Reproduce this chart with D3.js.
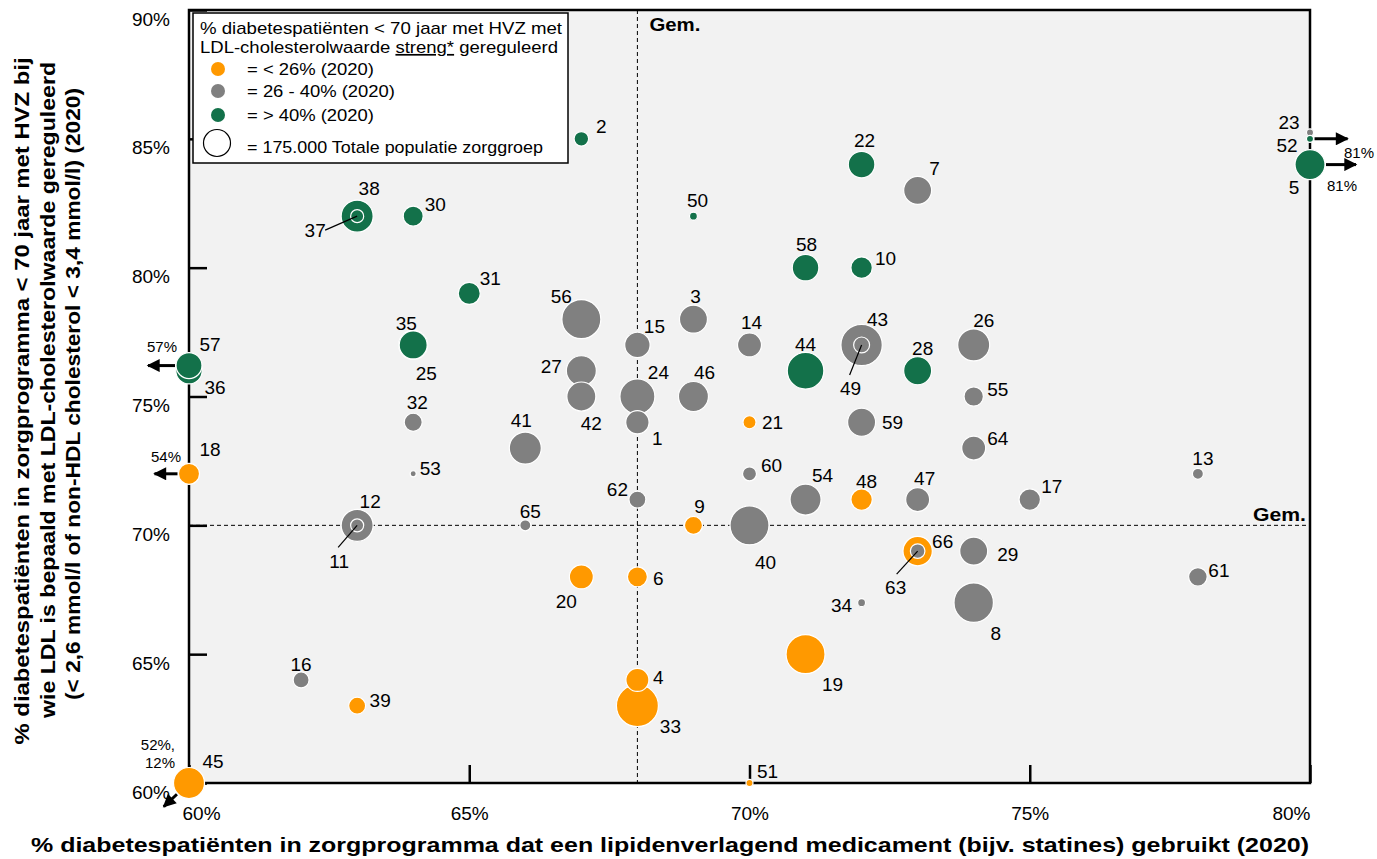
<!DOCTYPE html>
<html>
<head>
<meta charset="utf-8">
<script src="https://cdn.jsdelivr.net/npm/d3@7"></script>
<style>
body { margin: 0; background: #fff; }
text { font-family: Arial, "Liberation Sans", sans-serif; fill: #000; }
</style>
</head>
<body>
<svg id="chart" width="1377" height="859"></svg>
<script>
// zorggroep nummers 1..66
var ids = d3.range(1, 67);
// x: % met lipidenverlagend medicament
var medicatie = [68,67,69,68,81,68,73,74,69,72, 63,63,78,70,68,62,75,54,71,67,
  70,72,81,68,64,74,67,73,74,64, 65,64,68,72,64,60,63,63,63,70,
  66,67,72,71,52,69,73,72,72,69, 70,81,64,71,74,67,57,71,72,70,
  78,68,73,74,66,73];
// y: % LDL bepaald en gereguleerd
var ldlBepaald = [74,85,78,64,84,68,83,67,70,80, 70,70,72,77,77,64,71,72,65,68,
  74,84,85.25,75,77,77,76,76,69,82, 79,74,63,67,77,76,82,82,63,70,
  73,75,77,76,12,75,71,71,77,82, 60,85,72,71,75,78,76.2,80,74,72,
  68,71,69,73,70,69];
// totale populatie zorggroep (x1000)
var populatie = [131,51,188,127,216,96,188,373,78,110, 41,246,29,138,155,61,110,106,365,138,
  41,170,12,294,202,246,216,188,188,96, 116,78,423,15,188,167,41,246,69,365,
  246,202,411,322,231,216,138,110,61,15, 12,12,9,231,90,365,162,170,188,47,
  83,69,51,138,29,207];
// klasse streng gereguleerd: L = <26%, M = 26-40%, H = >40%
var klasse = ["M","H","M","L","H","L","M","M","L","H", "M","M","M","M","M","M","M","L","L","L",
  "L","H","M","M","H","M","M","H","M","H", "H","M","L","M","H","H","H","H","L","M",
  "M","M","M","H","L","M","M","L","M","H", "L","H","M","M","M","M","H","H","M","M",
  "M","M","M","M","M","L"];

var xTicks = [60, 65, 70, 75, 80];
var yTicks = [60, 65, 70, 75, 80, 85, 90];
var gemX = 68, gemY = 70;

var legendTitle = ["% diabetespatiënten < 70 jaar met HVZ met", "LDL-cholesterolwaarde "];
var legendItems = [
  {k: "L", t: "= < 26% (2020)"},
  {k: "M", t: "= 26 - 40% (2020)"},
  {k: "H", t: "= > 40% (2020)"}
];
var kleur = {L: "#ff9900", M: "#808080", H: "#13714a"};

// label plaatsing t.o.v. het middelpunt van de bol
var labelPos = {
  1:[20,16],2:[20,-12],3:[2,-23],4:[21,-3],5:[-16,23],6:[21,1],7:[17,-22],8:[22,31],9:[6,-19],10:[24,-9],
  11:[-18,36],12:[13,-24],13:[5,-15],14:[2,-23],15:[17,-19],16:[0,-16],17:[22,-13],18:[21,-24],19:[27,30],20:[-15,24],
  21:[23,0],22:[3,-24],23:[-21,-10],24:[21,-24],25:[13,28],26:[10,-25],27:[-30,-4],28:[5,-22],29:[34,3],30:[22,-12],
  31:[21,-15],32:[4,-20],33:[33,21],34:[-20,3],35:[-7,-22],36:[26,17],37:[-42,14],38:[12,-28],39:[23,-5],40:[16,37],
  41:[-4,-28],42:[10,27],43:[16,-26],44:[0,-26],45:[24,-22],46:[11,-24],47:[7,-21],48:[5,-18],49:[-11,43],50:[4,-16],
  51:[18,-12],52:[-23,7],53:[17,-5],54:[17,-24],55:[24,-7],56:[-20,-23],57:[21,-21],58:[1,-23],59:[31,0],60:[22,-8],
  61:[21,-7],62:[-20,-10],63:[-22,36],64:[24,-10],65:[5,-14],66:[25,-10]
};
var leaders = {37:[-32,14], 49:[-12,30], 11:[-19,22], 63:[-21,23]};

// pijlen voor waarden buiten de assen
var pijlen = [
  {id:57, hoek:180, len:27, tekst:["57%"], tx:-27, ty:-19, anchor:"middle"},
  {id:18, hoek:180, len:23, tekst:["54%"], tx:-23, ty:-17, anchor:"middle"},
  {id:52, hoek:0, len:33, tekst:["81%"], tx:49, ty:14, anchor:"middle"},
  {id:5, hoek:0, len:30, tekst:["81%"], tx:32, ty:21, anchor:"middle"},
  {id:45, hoek:137, len:18, tekst:["52%,", "12%"], tx:-14, ty:-38, anchor:"end"}
];

var svg = d3.select("#chart");
var L = 189, R = 1310, T = 10, B = 783;

var x = d3.scaleLinear().domain([60, 80]).range([L, R]).clamp(true);
var y = d3.scaleLinear().domain([60, 90]).range([B, T]).clamp(true);
var r = d3.scaleSqrt().domain([0, 175]).range([0, 13.5]);

var data = ids.map(function(id, i) {
  return {id: id, x: medicatie[i], y: ldlBepaald[i], pop: populatie[i], k: klasse[i]};
});

var defs = svg.append("defs");
defs.append("marker").attr("id", "pijl")
  .attr("viewBox", "0 0 10 10").attr("refX", 9).attr("refY", 5)
  .attr("markerUnits", "userSpaceOnUse")
  .attr("markerWidth", 15).attr("markerHeight", 13)
  .attr("orient", "auto")
  .append("path").attr("d", "M0,0L10,5L0,10Z").attr("fill", "#000");

// plotvlak
svg.append("rect").attr("x", L).attr("y", T).attr("width", R - L).attr("height", B - T)
  .attr("fill", "#f2f2f2").attr("stroke", "#000").attr("stroke-width", 2.5);

// gemiddelden
svg.append("line").attr("x1", x(gemX)).attr("x2", x(gemX)).attr("y1", T).attr("y2", B)
  .attr("stroke", "#000").attr("stroke-width", 1).attr("stroke-dasharray", "4,3");
svg.append("line").attr("x1", L).attr("x2", R).attr("y1", y(gemY)).attr("y2", y(gemY))
  .attr("stroke", "#000").attr("stroke-width", 1).attr("stroke-dasharray", "4,3");
svg.append("text").attr("x", x(gemX) + 12).attr("y", 25).attr("dy", "0.35em")
  .attr("font-size", 18).attr("font-weight", "bold")
  .attr("textLength", 51).attr("lengthAdjust", "spacingAndGlyphs").text("Gem.");
svg.append("text").attr("x", R - 4).attr("y", y(gemY) - 11).attr("dy", "0.35em")
  .attr("text-anchor", "end").attr("font-size", 18).attr("font-weight", "bold")
  .attr("textLength", 53).attr("lengthAdjust", "spacingAndGlyphs").text("Gem.");

// assen
var yAxis = svg.append("g").attr("transform", "translate(" + L + ",0)")
  .call(d3.axisLeft(y).tickValues(yTicks).tickSize(-18).tickPadding(19).tickFormat(function(d){ return d + "%"; }));
yAxis.select(".domain").remove();
yAxis.selectAll("line").attr("stroke-width", 2.5);
yAxis.selectAll("text").attr("font-size", 19).attr("y", 9);

var xAxis = svg.append("g").attr("transform", "translate(0," + B + ")")
  .call(d3.axisBottom(x).tickValues(xTicks).tickSize(-18).tickPadding(24).tickFormat(function(d){ return d + "%"; }));
xAxis.select(".domain").remove();
xAxis.selectAll("line").attr("stroke-width", 2.5);
xAxis.selectAll("text").attr("font-size", 19)
  .attr("text-anchor", function(d, i){ return i === 0 ? "start" : (i === xTicks.length - 1 ? "end" : "middle"); })
  .attr("x", function(d, i){ return i === 0 ? -7 : 0; });

// legenda
var lg = svg.append("g");
lg.append("rect").attr("x", 193).attr("y", 13).attr("width", 375).attr("height", 150)
  .attr("fill", "#fff").attr("stroke", "#000").attr("stroke-width", 1.5);
lg.append("text").attr("x", 200).attr("y", 28).attr("dy", "0.35em").attr("font-size", 17)
  .attr("textLength", 362).attr("lengthAdjust", "spacingAndGlyphs").text(legendTitle[0]);
var t2 = lg.append("text").attr("x", 200).attr("y", 47).attr("dy", "0.35em").attr("font-size", 17)
  .attr("textLength", 358).attr("lengthAdjust", "spacingAndGlyphs");
t2.append("tspan").text(legendTitle[1]);
t2.append("tspan").style("text-decoration", "underline").text("streng*");
t2.append("tspan").text(" gereguleerd");
var itemW = [127, 148, 127];
legendItems.forEach(function(it, i) {
  var yy = [69, 91, 115][i];
  lg.append("circle").attr("cx", 218).attr("cy", yy).attr("r", 7).attr("fill", kleur[it.k]);
  lg.append("text").attr("x", 247).attr("y", yy).attr("dy", "0.35em").attr("font-size", 17)
    .attr("textLength", itemW[i]).attr("lengthAdjust", "spacingAndGlyphs").text(it.t);
});
lg.append("circle").attr("cx", 217).attr("cy", 143).attr("r", r(175))
  .attr("fill", "#fff").attr("stroke", "#000").attr("stroke-width", 1.2);
lg.append("text").attr("x", 247).attr("y", 147).attr("dy", "0.35em").attr("font-size", 17)
  .attr("textLength", 296).attr("lengthAdjust", "spacingAndGlyphs")
  .text("= 175.000 Totale populatie zorggroep");

// bollen, groot eerst
var sorted = data.slice().sort(function(a, b){ return b.pop - a.pop; });
svg.append("g").selectAll("circle").data(sorted).join("circle")
  .attr("cx", function(d){ return x(d.x); })
  .attr("cy", function(d){ return y(d.y); })
  .attr("r", function(d){ return r(d.pop); })
  .attr("fill", function(d){ return kleur[d.k]; })
  .attr("stroke", "#fff").attr("stroke-width", 1.2);

// verbindingslijntjes
Object.keys(leaders).forEach(function(id) {
  var d = data[id - 1];
  svg.append("line").attr("x1", x(d.x)).attr("y1", y(d.y))
    .attr("x2", x(d.x) + leaders[id][0]).attr("y2", y(d.y) + leaders[id][1])
    .attr("stroke", "#000").attr("stroke-width", 1.2);
});

// labels
svg.append("g").selectAll("text").data(data).join("text")
  .attr("x", function(d){ return x(d.x) + labelPos[d.id][0]; })
  .attr("y", function(d){ return y(d.y) + labelPos[d.id][1]; })
  .attr("dy", "0.35em").attr("text-anchor", "middle").attr("font-size", 19)
  .text(function(d){ return d.id; });

// pijlen
pijlen.forEach(function(p) {
  var d = data[p.id - 1];
  var cx = x(d.x), cy = y(d.y), rr = r(d.pop);
  var a = p.hoek * Math.PI / 180;
  var ux = Math.cos(a), uy = Math.sin(a);
  var sx = cx + ux * (rr + 1), sy = cy + uy * (rr + 1);
  svg.append("line").attr("x1", sx).attr("y1", sy)
    .attr("x2", sx + ux * p.len).attr("y2", sy + uy * p.len)
    .attr("stroke", "#000").attr("stroke-width", 3).attr("marker-end", "url(#pijl)");
  p.tekst.forEach(function(t, j) {
    svg.append("text").attr("x", cx + p.tx).attr("y", cy + p.ty + j * 18).attr("dy", "0.35em")
      .attr("text-anchor", p.anchor).attr("font-size", 15).text(t);
  });
});

// astitels
var yt = ["% diabetespatiënten in zorgprogramma < 70 jaar met HVZ bij",
  "wie LDL is bepaald met LDL-cholesterolwaarde gereguleerd",
  "(< 2,6 mmol/l of non-HDL cholesterol < 3,4 mmol/l) (2020)"];
var ytLen = [687, 656, 612];
var ytMid = [401, 390, 394];
yt.forEach(function(t, i) {
  svg.append("text").attr("transform", "translate(" + (22 + i * 25.5) + "," + ytMid[i] + ") rotate(-90)")
    .attr("dy", "0.35em").attr("text-anchor", "middle").attr("font-size", 21).attr("font-weight", "bold")
    .attr("textLength", ytLen[i]).attr("lengthAdjust", "spacingAndGlyphs").text(t);
});
svg.append("text").attr("x", 670).attr("y", 845).attr("dy", "0.35em").attr("text-anchor", "middle")
  .attr("font-size", 21).attr("font-weight", "bold")
  .attr("textLength", 1278).attr("lengthAdjust", "spacingAndGlyphs")
  .text("% diabetespatiënten in zorgprogramma dat een lipidenverlagend medicament (bijv. statines) gebruikt (2020)");
</script>
</body>
</html>
